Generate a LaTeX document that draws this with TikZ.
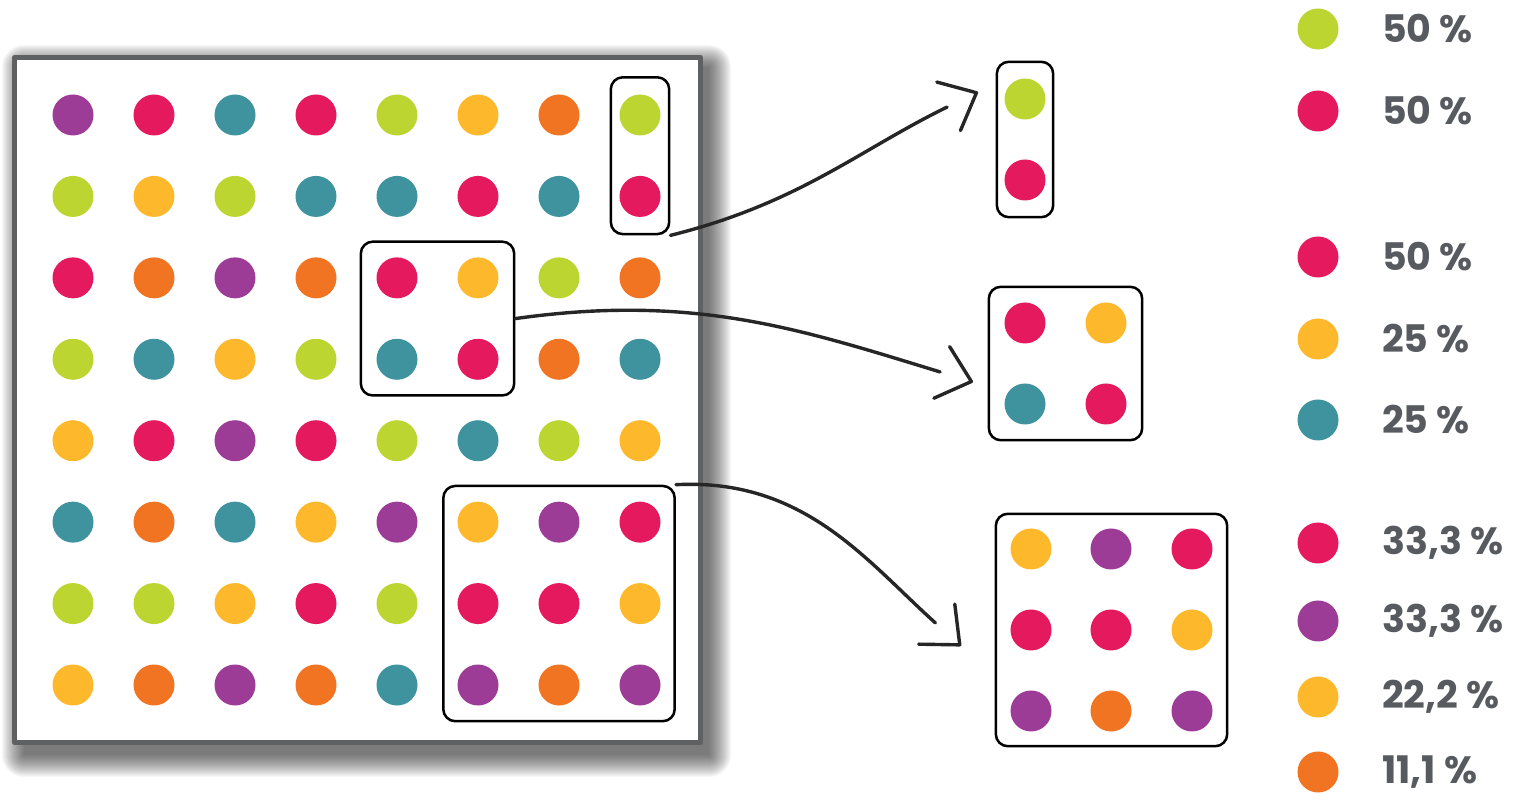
\documentclass[tikz,border=0pt]{standalone}
\usepackage{fontspec}
\newfontfamily\pctfont{Poppins}[Numbers=Monospaced]
\usetikzlibrary{arrows.meta,fit}

\definecolor{dpurple}{HTML}{9C3C97}
\definecolor{dpink}{HTML}{E5195E}
\definecolor{dteal}{HTML}{3E939F}
\definecolor{dlime}{HTML}{BDD531}
\definecolor{dyellow}{HTML}{FDB92B}
\definecolor{dorange}{HTML}{F07422}
\definecolor{framegray}{HTML}{5E6062}
\definecolor{pctgray}{HTML}{575B60}

\begin{document}
\begin{tikzpicture}[
  x=1pt,
  y=1pt,
  line cap=round,
  line join=round,
  ball/.style={circle, fill=#1, minimum size=41pt, inner sep=0pt},
  pickbox/.style={draw, line width=2.5pt, rounded corners=12pt, inner sep=15.5pt},
  pick/.style={draw=black!85, line width=3.4pt, -{. Straight Barb[round, length=31pt, width=54pt]}},
  pct/.style={anchor=west, inner sep=0pt, text=pctgray,
    font=\pctfont\bfseries\fontsize{38}{40}\selectfont}
]
  \useasboundingbox (0,0) rectangle (1517,800);

  % Шаг сетки точек
  \def\gx{81}
  \def\gy{81.43}

  % Тень рамки
  \foreach \k in {0,...,22}{
    \fill[black, opacity=0.03, rounded corners=\k pt]
      ({24-\k}, {45-\k}) rectangle ({709+\k}, {733+\k});
  }

  % Рамка поля
  \draw[line width=5pt, draw=framegray, fill=white]
    (14.5,57.5) rectangle (700.5,742.5);

  % Поле 8x8
  \foreach \rowlist [count=\r] in {%
    {dpurple,dpink,dteal,dpink,dlime,dyellow,dorange,dlime},%
    {dlime,dyellow,dlime,dteal,dteal,dpink,dteal,dpink},%
    {dpink,dorange,dpurple,dorange,dpink,dyellow,dlime,dorange},%
    {dlime,dteal,dyellow,dlime,dteal,dpink,dorange,dteal},%
    {dyellow,dpink,dpurple,dpink,dlime,dteal,dlime,dyellow},%
    {dteal,dorange,dteal,dyellow,dpurple,dyellow,dpurple,dpink},%
    {dlime,dlime,dyellow,dpink,dlime,dpink,dpink,dyellow},%
    {dyellow,dorange,dpurple,dorange,dteal,dpurple,dorange,dpurple}}{
    \foreach \c [count=\k] in \rowlist {
      \node[ball=\c] (g-\r-\k) at ({73+(\k-1)*\gx}, {685-(\r-1)*\gy}) {};
    }
  }

  % Выборки на поле
  \node[pickbox, inner xsep=8.5pt, inner ysep=17pt, fit=(g-1-8)(g-2-8)] (selA) {};
  \node[pickbox, fit=(g-3-5)(g-4-6)] (selB) {};
  \node[pickbox, inner xsep=14pt, fit=(g-6-6)(g-8-8)] (selC) {};

  % Выборка A отдельно
  \node[ball=dlime] (a-1) at (1025,701) {};
  \node[ball=dpink] (a-2) at (1025,620) {};
  \node[pickbox, inner xsep=7.5pt, inner ysep=16.5pt, fit=(a-1)(a-2)] (outA) {};

  % Выборка B отдельно
  \node[ball=dpink]   (b-1) at (1025,477) {};
  \node[ball=dyellow] (b-2) at (1106,477) {};
  \node[ball=dteal]   (b-3) at (1025,396) {};
  \node[ball=dpink]   (b-4) at (1106,396) {};
  \node[pickbox, fit=(b-1)(b-4)] (outB) {};

  % Выборка C отдельно
  \foreach \c/\px/\py [count=\i] in {
    dyellow/1031/251, dpurple/1111/251, dpink/1192/251,
    dpink/1031/170, dpink/1111/170, dyellow/1192/170,
    dpurple/1031/89, dorange/1111/89, dpurple/1192/89}{
    \node[ball=\c] (c-\i) at (\px,\py) {};
  }
  \node[pickbox, inner sep=14.5pt, fit=(c-1)(c-9)] (outC) {};

  % Стрелки
  \coordinate (tipA) at (978,708);
  \coordinate (tipB) at (973,418);
  \coordinate (tipC) at (961,154);

  \draw[pick] (selA.south east) to[out=14, in=206] (tipA);
  \draw[pick] (selB.east) to[out=8, in=163] (tipB);
  \draw[pick] (selC.north east) to[out=3, in=138] (tipC);

  % Доли цветов
  \foreach \c/\y/\share [count=\i] in {
    dlime/771/50, dpink/689/50,
    dpink/543/50, dyellow/461/25, dteal/380/25,
    dpink/257/{33,3}, dpurple/179/{33,3}, dyellow/103/{22,2}, dorange/28/{11,1}}{
    \node[ball=\c] (key-\i) at (1318,\y) {};
    \node[pct] (val-\i) at (1382,\y) {\share~\%};
  }
\end{tikzpicture}
\end{document}
